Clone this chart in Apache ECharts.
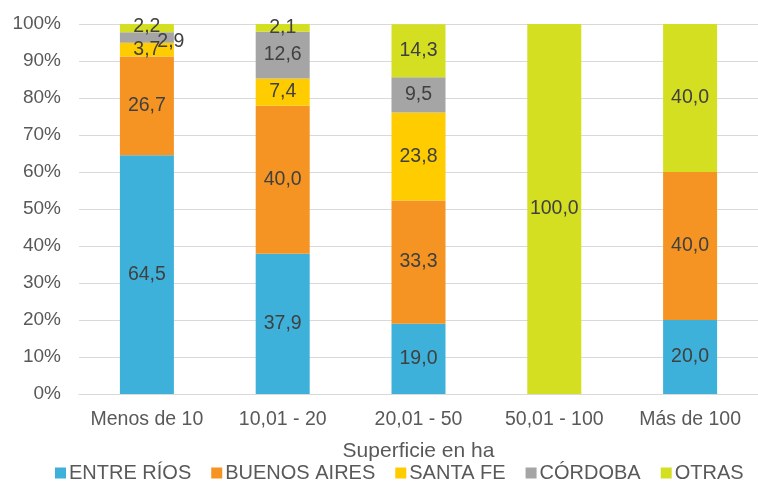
<!DOCTYPE html>
<html><head><meta charset="utf-8">
<script src="https://cdn.jsdelivr.net/npm/echarts@6/dist/echarts.min.js"></script>
<style>html,body{margin:0;padding:0;background:#fff}#c{width:758px;height:485px}</style>
</head><body><div id="c"></div>
<script>
var categories = ['Menos de 10', '10,01 - 20', '20,01 - 50', '50,01 - 100', 'Más de 100'];
var seriesNames = ['ENTRE RÍOS', 'BUENOS AIRES', 'SANTA FE', 'CÓRDOBA', 'OTRAS'];
var entreRios = [64.5, 37.9, 19.0, 0, 20.0];
var buenosAires = [26.7, 40.0, 33.3, 0, 40.0];
var santaFe = [3.7, 7.4, 23.8, 0, 0];
var cordoba = [2.9, 12.6, 9.5, 0, 0];
var otras = [2.2, 2.1, 14.3, 100.0, 40.0];
var yTicks = [0, 10, 20, 30, 40, 50, 60, 70, 80, 90, 100];
var colors = ['#3EB1DA', '#F59423', '#FFCC00', '#A5A5A5', '#D5DF22'];
var font = 'Liberation Sans, Arial, sans-serif';

function fmt(p) {
  if (!p.value) return '';
  return p.value.toFixed(1).replace('.', ',');
}
var allData = [entreRios, buenosAires, santaFe, cordoba, otras];
var series = allData.map(function (d, i) {
  return {
    name: seriesNames[i], type: 'bar', stack: 'total', barWidth: 54,
    itemStyle: { color: colors[i] },
    label: { show: true, position: 'inside', formatter: fmt, color: '#404040', fontSize: 19.5, fontFamily: font },
    data: d.map(function (v, j) {
      if (i === 3 && j === 0) {
        return { value: v, label: { offset: [24, 4] } };
      }
      if (i === 4 && j === 0) {
        return { value: v, label: { offset: [0, -1] } };
      }
      return v;
    })
  };
});

var chart = echarts.init(document.getElementById('c'));
chart.setOption({
  animation: false,
  color: colors,
  grid: { left: 79, right: -4, top: 24, bottom: 91, containLabel: false },
  legend: {
    data: seriesNames, top: 458, left: 50, itemWidth: 11, itemHeight: 11, itemGap: 20,
    icon: 'rect',
    textStyle: { fontSize: 20, color: '#595959', fontFamily: font, padding: [0, 0, 0, -2] }
  },
  xAxis: {
    type: 'category', data: categories,
    name: 'Superficie en ha', nameLocation: 'middle', nameGap: 47,
    nameTextStyle: { fontSize: 21, color: '#595959', fontFamily: font },
    axisLine: { lineStyle: { color: '#D9D9D9' } },
    axisTick: { show: false },
    axisLabel: { interval: 0, fontSize: 19.5, color: '#595959', fontFamily: font, margin: 16 }
  },
  yAxis: {
    type: 'value', min: 0, max: 100, interval: 10,
    axisLine: { show: false }, axisTick: { show: false },
    splitLine: { lineStyle: { color: '#D9D9D9' } },
    axisLabel: { fontSize: 19, color: '#595959', fontFamily: font, margin: 18,
      formatter: function (v) { return v + '%'; } }
  },
  series: series
});
</script></body></html>
